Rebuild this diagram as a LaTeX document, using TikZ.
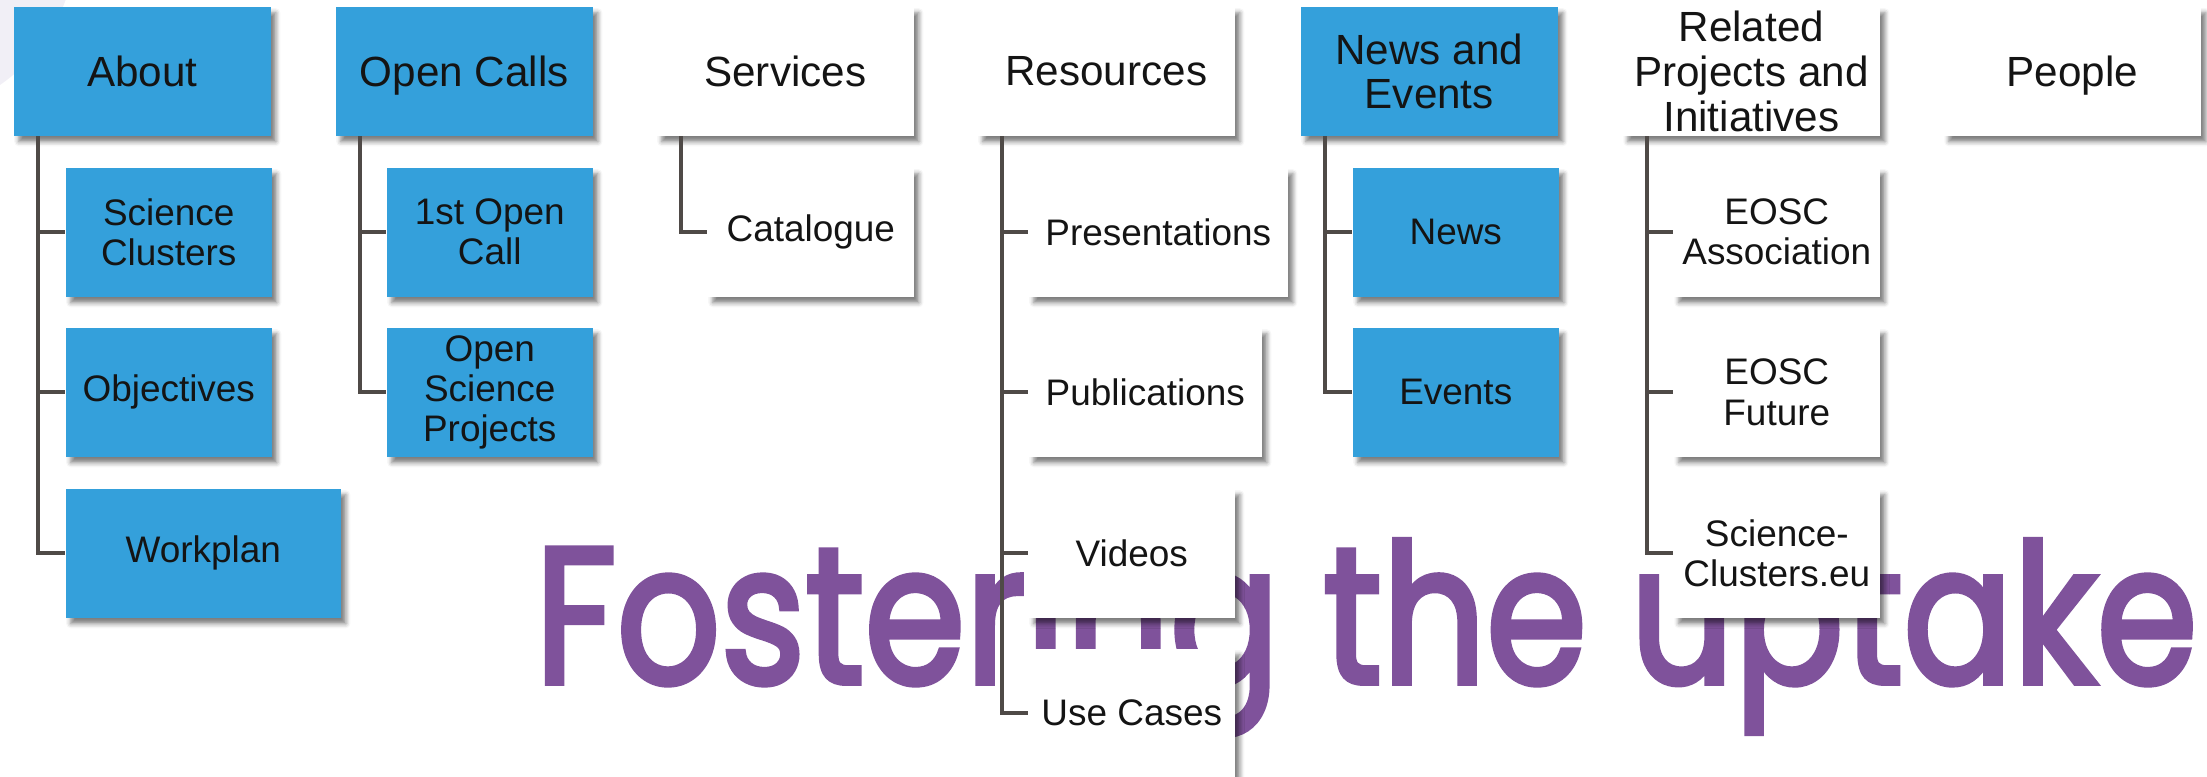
\documentclass[tikz,border=0pt]{standalone}
\usepackage{fontspec}
\setmainfont{Liberation Sans}
\newfontfamily\fostfont[FakeBold=3]{Poppins}
\usetikzlibrary{shadows.blur}
\definecolor{menublue}{RGB}{52,160,219}
\definecolor{linkgray}{RGB}{79,74,71}
\definecolor{fostpurple}{RGB}{127,82,155}
\definecolor{haze}{RGB}{241,239,246}
\tikzset{
  box/.style={rectangle, inner sep=0pt, anchor=north west, align=center, text=black!92,
    blur shadow={shadow xshift=0.05cm, shadow yshift=-0.06cm, shadow blur radius=0.045cm, shadow opacity=50}},
  headbox/.style={box, minimum width=2.57cm, minimum height=1.29cm, text depth=0pt, font=\fontsize{12}{12.7}\selectfont},
  leafbox/.style={box, minimum width=2.06cm, minimum height=1.29cm, font=\fontsize{10.5}{11.4}\selectfont},
  filled/.style={fill=menublue},
  plain/.style={fill=white},
  menulink/.style={draw=linkgray, line width=0.042cm}
}
\newcommand{\menuhead}[4]{\node[headbox,#4] (#1) at (#2,6) {#3};}
\newcommand{\menuleaf}[5]{\node[leafbox,#5] (#1) at (#2,#3) {#4};}
\newcommand{\menuedge}[2]{\draw[menulink] ([xshift=0.25cm]#1.south west) |- (#2.west);}

\begin{document}
\begin{tikzpicture}[x=0.01cm,y=-0.01cm]
    \useasboundingbox (0,0) rectangle (2207,776);
    \fill[haze] (-100,-60) circle (1.76cm);
    \node[anchor=base west, inner sep=0pt, text=fostpurple, font=\fostfont\fontsize{55}{60}\selectfont] (Fost) at (534,683) {\scalebox{0.84}[1]{Fostering the uptake}};
    \menuhead{About}{13}{About}{filled}
    \menuhead{Calls}{335}{Open Calls}{filled}
    \menuhead{Services}{656}{Services}{plain}
    \menuhead{Resources}{977}{Resources}{plain}
    \menuhead{NewsEv}{1300}{News and\\Events}{filled}
    \menuhead{Related}{1622}{Related\\Projects and\\Initiatives}{plain}
    \menuhead{People}{1943}{People}{plain}
    \menuleaf{SC}{65}{167}{Science\\Clusters}{filled}
    \menuleaf{Obj}{65}{327}{Objectives}{filled}
    \menuleaf{Work}{65}{488}{Workplan}{filled,minimum width=2.75cm}
    \menuleaf{OC1}{386}{167}{1st Open\\Call}{filled}
    \menuleaf{OSP}{386}{327}{Open\\Science\\Projects}{filled}
    \menuleaf{Cat}{707}{167}{Catalogue}{plain}
    \menuleaf{Pres}{1028}{167}{Presentations}{plain,minimum width=2.59cm}
    \menuleaf{Pub}{1028}{327}{Publications}{plain,minimum width=2.33cm}
    \menuleaf{Vid}{1028}{488}{Videos}{plain}
    \menuleaf{UC}{1028}{648}{Use Cases}{plain}
    \menuleaf{News}{1352}{167}{News}{filled}
    \menuleaf{Events}{1352}{327}{Events}{filled}
    \menuleaf{EA}{1673}{167}{EOSC\\Association}{plain}
    \menuleaf{EF}{1673}{327}{EOSC\\Future}{plain}
    \menuleaf{SCeu}{1673}{488}{Science-\\Clusters.eu}{plain}
    \menuedge{About}{SC}\menuedge{About}{Obj}\menuedge{About}{Work}
    \menuedge{Calls}{OC1}\menuedge{Calls}{OSP}
    \menuedge{Services}{Cat}
    \menuedge{Resources}{Pres}\menuedge{Resources}{Pub}
    \menuedge{Resources}{Vid}\menuedge{Resources}{UC}
    \menuedge{NewsEv}{News}\menuedge{NewsEv}{Events}
    \menuedge{Related}{EA}\menuedge{Related}{EF}\menuedge{Related}{SCeu}
\end{tikzpicture}
\end{document}
